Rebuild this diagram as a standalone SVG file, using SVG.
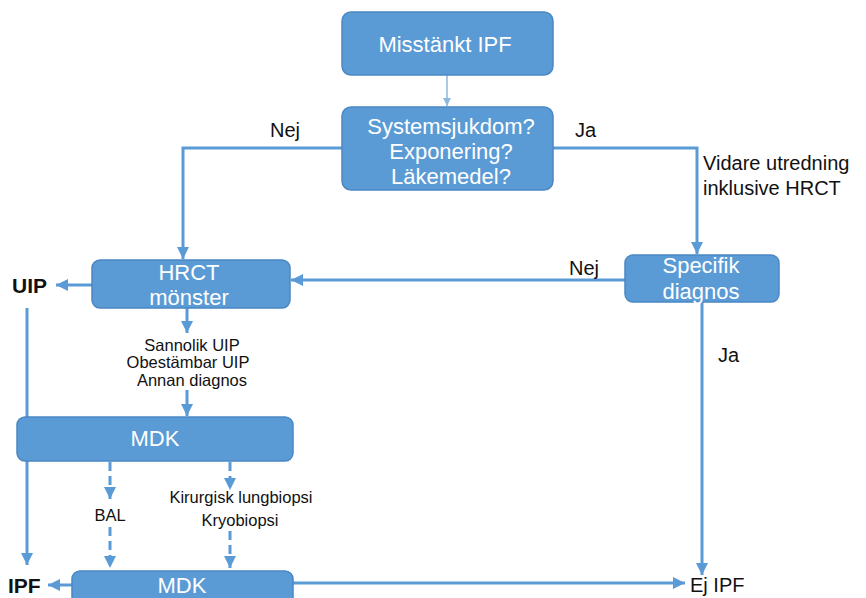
<svg xmlns="http://www.w3.org/2000/svg" width="866" height="598" viewBox="0 0 866 598">
<style>
.box{fill:#5b9bd5;stroke:#4a88c4;stroke-width:1.5}
.bt{fill:#fff;font-family:"Liberation Sans",Arial,sans-serif;font-size:22px;text-anchor:middle}
.lb{fill:#111;font-family:"Liberation Sans",Arial,sans-serif;font-size:20px}
.sm{fill:#111;font-family:"Liberation Sans",Arial,sans-serif;font-size:16.5px;text-anchor:middle}
.bold{font-weight:bold;font-size:21px}
.ln{fill:none;stroke:#5b9bd5;stroke-width:3}
.ds{stroke-dasharray:9,5}
</style>
<defs>
<marker id="ah" markerUnits="userSpaceOnUse" markerWidth="12" markerHeight="12" viewBox="0 0 12 12" refX="12" refY="6" orient="auto">
<path d="M0,0 L12,6 L0,12 z" fill="#5b9bd5"/>
</marker>
<marker id="ahs" markerUnits="userSpaceOnUse" markerWidth="8" markerHeight="8" viewBox="0 0 8 8" refX="8" refY="4" orient="auto">
<path d="M0,0 L8,4 L0,8 z" fill="#8fb8e0"/>
</marker>
</defs>
<g id="connectors">
<line x1="447" y1="75" x2="447" y2="106" stroke="#8fb8e0" stroke-width="1.5" marker-end="url(#ahs)"/>
<polyline class="ln" points="342,148 183,148 183,259" marker-end="url(#ah)"/>
<polyline class="ln" points="553,148 697,148 697,254" marker-end="url(#ah)"/>
<line class="ln" x1="625" y1="280" x2="291" y2="280" marker-end="url(#ah)"/>
<line class="ln" x1="92" y1="285" x2="56" y2="285" marker-end="url(#ah)"/>
<line class="ln" x1="27" y1="308" x2="27" y2="565" marker-end="url(#ah)"/>
<line class="ln" x1="187" y1="308" x2="187" y2="333" marker-end="url(#ah)"/>
<line class="ln" x1="187" y1="390" x2="187" y2="416" marker-end="url(#ah)"/>
<line class="ln" x1="702" y1="302" x2="702" y2="575" marker-end="url(#ah)"/>
<line class="ln" x1="293" y1="583" x2="685" y2="583" marker-end="url(#ah)"/>
<line class="ln" x1="72" y1="585" x2="48" y2="585" marker-end="url(#ah)"/>
<line class="ln ds" x1="110" y1="462" x2="110" y2="499" marker-end="url(#ah)"/>
<line class="ln ds" x1="110" y1="527" x2="110" y2="568" marker-end="url(#ah)"/>
<line class="ln ds" x1="230" y1="462" x2="230" y2="490" marker-end="url(#ah)"/>
<line class="ln ds" x1="230" y1="531" x2="230" y2="568" marker-end="url(#ah)"/>
</g>
<g id="misstankt">
<rect class="box" x="342" y="12" width="211" height="63" rx="9"/>
<text class="bt" x="445" y="52">Misstänkt IPF</text>
</g>
<g id="system">
<rect class="box" x="342" y="107" width="211" height="83" rx="9"/>
<text class="bt" x="451" y="134">Systemsjukdom?</text>
<text class="bt" x="451" y="159">Exponering?</text>
<text class="bt" x="451" y="184">Läkemedel?</text>
</g>
<g id="hrct">
<rect class="box" x="92" y="260" width="198" height="48" rx="8"/>
<text class="bt" x="189" y="280">HRCT</text>
<text class="bt" x="189" y="305">mönster</text>
</g>
<g id="specifik">
<rect class="box" x="625" y="255" width="154" height="47" rx="8"/>
<text class="bt" x="701" y="273">Specifik</text>
<text class="bt" x="701" y="299">diagnos</text>
</g>
<g id="mdk1">
<rect class="box" x="17" y="417" width="276" height="44" rx="8"/>
<text class="bt" x="155" y="446">MDK</text>
</g>
<g id="mdk2">
<rect class="box" x="72" y="571" width="221" height="40" rx="8"/>
<text class="bt" x="182" y="593">MDK</text>
</g>
<g id="labels">
<text class="lb" x="270" y="137">Nej</text>
<text class="lb" x="575" y="137">Ja</text>
<text class="lb" x="703" y="170">Vidare utredning</text>
<text class="lb" x="703" y="195">inklusive HRCT</text>
<text class="lb" x="569" y="275">Nej</text>
<text class="lb" x="718" y="362">Ja</text>
<text class="lb bold" x="12" y="293">UIP</text>
<text class="lb bold" x="8" y="593">IPF</text>
<text class="lb" x="690" y="592">Ej IPF</text>
<text class="sm" x="192" y="351">Sannolik UIP</text>
<text class="sm" x="188" y="368">Obestämbar UIP</text>
<text class="sm" x="192" y="386">Annan diagnos</text>
<text class="sm" x="110" y="521">BAL</text>
<text class="sm" x="241" y="503">Kirurgisk lungbiopsi</text>
<text class="sm" x="240" y="526">Kryobiopsi</text>
</g>
</svg>
